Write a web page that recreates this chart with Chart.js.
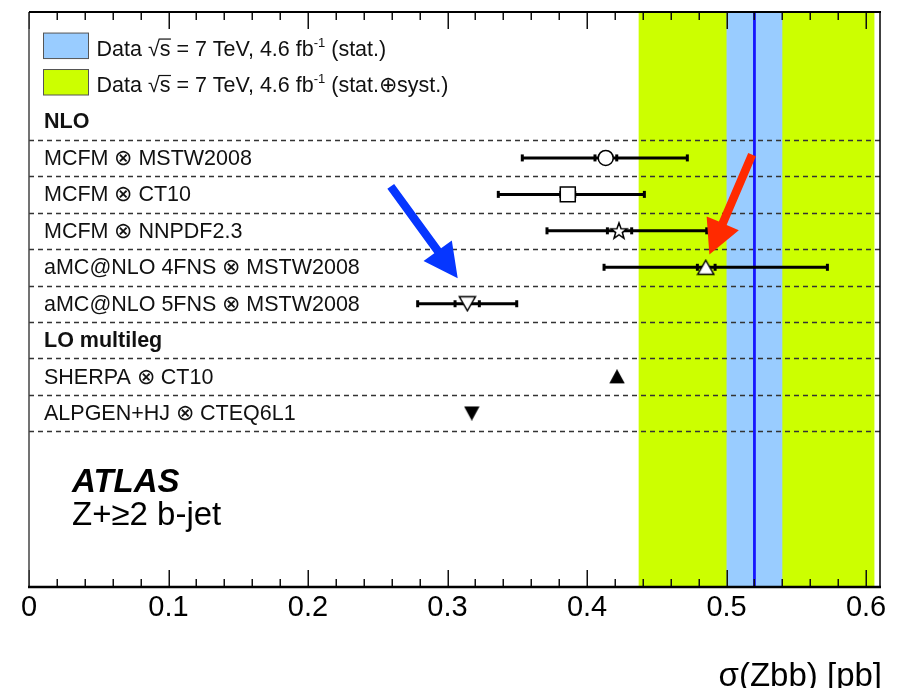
<!DOCTYPE html>
<html><head><meta charset="utf-8">
<script src="https://cdn.jsdelivr.net/npm/chart.js@4.4.0/dist/chart.umd.min.js"></script>
<style>html,body{margin:0;padding:0;background:#fff}canvas{display:block}</style>
</head><body>
<canvas id="c" width="913" height="688"></canvas>
<script>
// ---------------- data ----------------
const legendLabels = ['(stat.)', '(stat.\u2295syst.)'];
const groupHeaders = ['NLO', 'LO multileg'];
const modelLabels = ['MCFM \u2297 MSTW2008', 'MCFM \u2297 CT10', 'MCFM \u2297 NNPDF2.3',
                     'aMC@NLO 4FNS \u2297 MSTW2008', 'aMC@NLO 5FNS \u2297 MSTW2008'];
const modelValues   = [0.4134, 0.3862, 0.4229, 0.4851, 0.3142];
const modelStatLow  = [0.4057, 0.3812, 0.4146, 0.4791, 0.3054];
const modelStatHigh = [0.4213, 0.3912, 0.4320, 0.4918, 0.3228];
const modelTotLow   = [0.3536, 0.3364, 0.3713, 0.4122, 0.2786];
const modelTotHigh  = [0.4719, 0.4411, 0.4858, 0.5723, 0.3496];
const loLabels = ['SHERPA \u2297 CT10', 'ALPGEN+HJ \u2297 CTEQ6L1'];
const loValues = [0.4215, 0.3174];
const dataValue = 0.520;
const dataStatBand = [0.500, 0.540];
const dataTotalBand = [0.437, 0.606];
const xTicks = [0, 0.1, 0.2, 0.3, 0.4, 0.5, 0.6];
const xTickLabels = ['0', '0.1', '0.2', '0.3', '0.4', '0.5', '0.6'];
const xMin = 0, xMax = 0.61, xMinorStep = 0.02;
const xTitle = '\u03c3(Zbb) [pb]';

// row layout (row index from top)
const legendRows = [1, 2];
const headerRows = [3, 9];
const modelRows = [4, 5, 6, 7, 8];
const loRows = [10, 11];
const separatorRows = [3.5, 4.5, 5.5, 6.5, 7.5, 8.5, 9.5, 10.5, 11.5];
const yMax = 15.77;

// annotation arrows (data coordinates: x value, row)
const arrows = [
  { from: [0.2593, 4.78], to: [0.3073, 7.30], color: '#0636ff' },
  { from: [0.5183, 3.91], to: [0.4877, 6.65], color: '#ff2a00' }
];

// ---------------- styles ----------------
const FONT = '"Liberation Sans", Arial, Helvetica, sans-serif';
const GREEN = '#ccff00', BLUE_BAND = '#99ccff', BLUE_LINE = '#1515ff';

function starCanvas() {
  const c = document.createElement('canvas'); c.width = 20; c.height = 20;
  const g = c.getContext('2d'); g.beginPath();
  for (let k = 0; k < 10; k++) {
    const r = k % 2 ? 3.5 : 8.5; const a = -Math.PI / 2 + k * Math.PI / 5;
    g.lineTo(10 + r * Math.cos(a), 10.5 + r * Math.sin(a));
  }
  g.closePath(); g.fillStyle = '#fff'; g.fill(); g.lineWidth = 1.5; g.strokeStyle = '#000'; g.stroke();
  return c;
}
function triCanvas(up, filled, w, h) {
  const c = document.createElement('canvas'); c.width = Math.ceil(w + 3); c.height = Math.ceil(h + 3);
  const g = c.getContext('2d'); const x0 = 1.5, y0 = 1.5; g.beginPath();
  if (up) { g.moveTo(x0 + w / 2, y0); g.lineTo(x0 + w, y0 + h); g.lineTo(x0, y0 + h); }
  else { g.moveTo(x0, y0); g.lineTo(x0 + w, y0); g.lineTo(x0 + w / 2, y0 + h); }
  g.closePath(); g.fillStyle = filled ? '#000' : '#fff'; g.fill();
  g.lineWidth = 1.5; g.strokeStyle = '#000'; g.lineJoin = 'miter'; g.stroke();
  return c;
}
const styles = ['circle', 'rect', starCanvas(), triCanvas(true, false, 16, 14), triCanvas(false, false, 16, 14)];
const radii = [7.5, 10.6, 8, 8, 8];

const datasets = modelValues.map((v, i) => ({
  data: [{ x: v, y: modelRows[i] }],
  pointStyle: styles[i], pointRadius: radii[i],
  backgroundColor: '#fff', borderColor: '#000', borderWidth: 1.5
}));
datasets.push({
  data: [{ x: loValues[0], y: loRows[0] }], pointStyle: triCanvas(true, true, 13, 12), pointRadius: 7,
  backgroundColor: '#000', borderColor: '#000'
});
datasets.push({
  data: [{ x: loValues[1], y: loRows[1] }], pointStyle: triCanvas(false, true, 13, 12), pointRadius: 7,
  backgroundColor: '#000', borderColor: '#000'
});

// ---------------- plugins ----------------
const backPlugin = {
  id: 'back',
  beforeDatasetsDraw(chart) {
    const { ctx, chartArea: a, scales: { x, y } } = chart;
    ctx.save();
    ctx.fillStyle = GREEN;
    ctx.fillRect(x.getPixelForValue(dataTotalBand[0]), a.top, x.getPixelForValue(dataTotalBand[1]) - x.getPixelForValue(dataTotalBand[0]), a.bottom - a.top);
    ctx.fillStyle = BLUE_BAND;
    ctx.fillRect(x.getPixelForValue(dataStatBand[0]), a.top, x.getPixelForValue(dataStatBand[1]) - x.getPixelForValue(dataStatBand[0]), a.bottom - a.top);
    ctx.strokeStyle = '#333'; ctx.lineWidth = 1.5; ctx.setLineDash([5, 4]);
    separatorRows.forEach(r => {
      const py = Math.round(y.getPixelForValue(r)) + 0.5;
      ctx.beginPath(); ctx.moveTo(a.left, py); ctx.lineTo(a.right, py); ctx.stroke();
    });
    ctx.setLineDash([]);
    ctx.strokeStyle = BLUE_LINE; ctx.lineWidth = 2.8;
    const bx = x.getPixelForValue(dataValue);
    ctx.beginPath(); ctx.moveTo(bx, a.top); ctx.lineTo(bx, a.bottom); ctx.stroke();
    ctx.strokeStyle = '#000'; ctx.lineWidth = 3; ctx.lineCap = 'butt';
    modelValues.forEach((v, i) => {
      const py = y.getPixelForValue(modelRows[i]);
      const l = x.getPixelForValue(modelTotLow[i]), r = x.getPixelForValue(modelTotHigh[i]);
      ctx.beginPath(); ctx.moveTo(l, py); ctx.lineTo(r, py); ctx.stroke();
      [modelTotLow[i], modelTotHigh[i], modelStatLow[i], modelStatHigh[i]].forEach(e => {
        const ex = x.getPixelForValue(e);
        ctx.beginPath(); ctx.moveTo(ex, py - 3.5); ctx.lineTo(ex, py + 3.5); ctx.stroke();
      });
    });
    ctx.restore();
  }
};

function drawArrow(ctx, x1, y1, x2, y2, color) {
  const dx = x2 - x1, dy = y2 - y1, L = Math.hypot(dx, dy);
  const ux = dx / L, uy = dy / L, nx = -uy, ny = ux;
  const hl = 34, hw = 17.5, sw = 4.2;
  const bx = x2 - ux * hl, by = y2 - uy * hl;
  ctx.fillStyle = color; ctx.beginPath();
  ctx.moveTo(x1 + nx * sw, y1 + ny * sw);
  ctx.lineTo(bx + nx * sw, by + ny * sw);
  ctx.lineTo(bx + nx * hw, by + ny * hw);
  ctx.lineTo(x2, y2);
  ctx.lineTo(bx - nx * hw, by - ny * hw);
  ctx.lineTo(bx - nx * sw, by - ny * sw);
  ctx.lineTo(x1 - nx * sw, y1 - ny * sw);
  ctx.closePath(); ctx.fill();
}

const frontPlugin = {
  id: 'front',
  afterDatasetsDraw(chart) {
    const { ctx, chartArea: a, scales: { x, y } } = chart;
    ctx.save();
    ctx.strokeStyle = '#111'; ctx.lineWidth = 1.5;
    const nMinor = Math.floor((xMax - xMin) / xMinorStep + 1e-9);
    for (let k = 0; k <= nMinor; k++) {
      const v = xMin + k * xMinorStep;
      const major = xTicks.some(t => Math.abs(t - v) < 1e-9);
      const px = Math.round(x.getPixelForValue(v)) + 0.25;
      const len = major ? 17 : 8;
      ctx.beginPath(); ctx.moveTo(px, a.bottom); ctx.lineTo(px, a.bottom - len); ctx.stroke();
      ctx.beginPath(); ctx.moveTo(px, a.top); ctx.lineTo(px, a.top + len); ctx.stroke();
    }
    ctx.strokeStyle = '#444'; ctx.lineWidth = 1.5;
    ctx.beginPath(); ctx.moveTo(a.left, a.top); ctx.lineTo(a.left, a.bottom); ctx.stroke();
    ctx.strokeStyle = '#000'; ctx.lineWidth = 1.5;
    ctx.beginPath(); ctx.moveTo(a.right, a.top); ctx.lineTo(a.right, a.bottom); ctx.stroke();
    ctx.lineWidth = 2;
    ctx.beginPath(); ctx.moveTo(a.left, a.top); ctx.lineTo(a.right + 1, a.top); ctx.stroke();
    ctx.lineWidth = 2.5;
    ctx.beginPath(); ctx.moveTo(a.left - 1, a.bottom); ctx.lineTo(a.right + 1, a.bottom); ctx.stroke();

    const tx = a.left + 15;
    const F = '21.5px ' + FONT, FB = 'bold 21.5px ' + FONT;
    ctx.fillStyle = '#111'; ctx.textBaseline = 'alphabetic'; ctx.textAlign = 'left';
    [BLUE_BAND, GREEN].forEach((col, i) => {
      const py = y.getPixelForValue(legendRows[i]);
      ctx.fillStyle = col; ctx.fillRect(a.left + 14.5, py - 15.5, 45, 25.5);
      ctx.strokeStyle = '#555'; ctx.lineWidth = 1; ctx.strokeRect(a.left + 14.5, py - 15.5, 45, 25.5);
      let cx = a.left + 67.5; const by = py + 7;
      ctx.fillStyle = '#111';
      const put = (t, font, dy) => { ctx.font = font; ctx.fillText(t, cx, by + (dy || 0)); cx += ctx.measureText(t).width; };
      put('Data ', F);
      put('\u221a', F);
      const s0 = cx; put('s', F);
      ctx.strokeStyle = '#111'; ctx.lineWidth = 1.2;
      ctx.beginPath(); ctx.moveTo(s0 - 1, by - 16.5); ctx.lineTo(cx + 0.5, by - 16.5); ctx.stroke();
      put(' = 7 TeV, 4.6 fb', F);
      put('-1', '13px ' + FONT, -9);
      put(' ' + legendLabels[i], F);
    });
    groupHeaders.forEach((t, i) => { ctx.font = FB; ctx.fillText(t, tx, y.getPixelForValue(headerRows[i]) + 7); });
    ctx.font = F;
    modelLabels.forEach((t, i) => ctx.fillText(t, tx, y.getPixelForValue(modelRows[i]) + 7));
    loLabels.forEach((t, i) => ctx.fillText(t, tx, y.getPixelForValue(loRows[i]) + 7));
    ctx.font = 'italic bold 33px ' + FONT; ctx.fillStyle = '#000';
    ctx.fillText('ATLAS', a.left + 43, y.getPixelForValue(13.16));
    ctx.font = '33px ' + FONT;
    ctx.fillText('Z+\u22652 b-jet', a.left + 43, y.getPixelForValue(14.07));
    ctx.font = '33px ' + FONT; ctx.textAlign = 'right';
    ctx.fillText(xTitle, a.right + 2, 686);
    arrows.forEach(ar => drawArrow(ctx, x.getPixelForValue(ar.from[0]), y.getPixelForValue(ar.from[1]),
                                   x.getPixelForValue(ar.to[0]), y.getPixelForValue(ar.to[1]), ar.color));
    ctx.restore();
  }
};

new Chart(document.getElementById('c'), {
  type: 'scatter',
  data: { datasets },
  options: {
    responsive: false, animation: false, devicePixelRatio: 1,
    layout: { padding: { left: 29, right: 33, top: 10, bottom: 0 } },
    plugins: { legend: { display: false }, tooltip: { enabled: false } },
    scales: {
      x: {
        type: 'linear', min: xMin, max: xMax, position: 'bottom',
        afterBuildTicks: s => { s.ticks = xTicks.map(v => ({ value: v })); },
        afterFit: s => { s.height = 101; s.paddingLeft = 0; s.paddingRight = 0; },
        grid: { display: false, drawTicks: false }, border: { display: false },
        ticks: {
          font: { family: FONT, size: 29 }, color: '#000', padding: 4, maxRotation: 0, autoSkip: false,
          callback: (v, i) => xTickLabels[i]
        }
      },
      y: { type: 'linear', min: 0, max: yMax, reverse: true, display: false }
    }
  },
  plugins: [backPlugin, frontPlugin]
});
</script>
</body></html>
